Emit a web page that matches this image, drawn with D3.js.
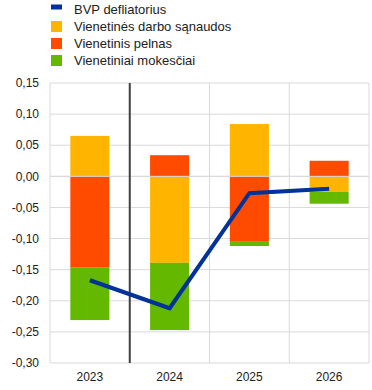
<!DOCTYPE html>
<html>
<head>
<meta charset="utf-8">
<script src="https://cdn.jsdelivr.net/npm/d3@7"></script>
<style>
  body { margin: 0; background: #fff; }
  text { font-family: Arial, "Liberation Sans", sans-serif; fill: #222; }
</style>
</head>
<body>
<div id="chart"></div>
<script>
// data
var years = ["2023", "2024", "2025", "2026"];
var laborCosts = [0.065, -0.139, 0.084, -0.025];
var profits = [-0.146, 0.034, -0.104, 0.025];
var taxes = [-0.085, -0.108, -0.008, -0.019];
var deflator = [-0.167, -0.212, -0.027, -0.020];
var yTicks = [0.15, 0.10, 0.05, 0, -0.05, -0.10, -0.15, -0.20, -0.25, -0.30];

var seriesNames = ["BVP defliatorius", "Vienetinės darbo sąnaudos", "Vienetinis pelnas", "Vienetiniai mokesčiai"];
var colors = ["#003299", "#ffb400", "#ff4b00", "#65b800"];

var W = 372, H = 390;
var margin = { top: 83, right: 3, bottom: 27, left: 50 };
var width = W - margin.left - margin.right,
    height = H - margin.top - margin.bottom;

var svg = d3.select("#chart").append("svg")
  .attr("width", W).attr("height", H);

var g = svg.append("g")
  .attr("transform", "translate(" + margin.left + "," + margin.top + ")");

var x = d3.scaleBand().domain(years).range([0, width]).paddingInner(0).paddingOuter(0);
var y = d3.scaleLinear().domain([-0.30, 0.15]).range([height, 0]);

// grid
g.selectAll(".hgrid").data(yTicks).enter().append("line")
  .attr("x1", 0).attr("x2", width)
  .attr("y1", function(d) { return y(d); }).attr("y2", function(d) { return y(d); })
  .attr("stroke", "#d9d9d9").attr("stroke-width", 1);

var vlines = [0].concat(years.map(function(d) { return x(d) + x.bandwidth(); }));
g.selectAll(".vgrid").data(vlines).enter().append("line")
  .attr("x1", function(d) { return d; }).attr("x2", function(d) { return d; })
  .attr("y1", 0).attr("y2", height)
  .attr("stroke", "#d9d9d9").attr("stroke-width", 1);

// stacked bars
var table = years.map(function(yr, i) {
  return { year: yr, labor: laborCosts[i], profit: profits[i], tax: taxes[i] };
});
var keys = ["labor", "profit", "tax"];
var stack = d3.stack().keys(keys).offset(d3.stackOffsetDiverging)(table);

var barW = x.bandwidth() * 0.49;
g.selectAll(".layer").data(stack).enter().append("g")
  .attr("fill", function(d, i) { return colors[i + 1]; })
  .selectAll("rect").data(function(d) { return d; }).enter().append("rect")
  .attr("x", function(d) { return x(d.data.year) + (x.bandwidth() - barW) / 2; })
  .attr("width", barW)
  .attr("y", function(d) { return y(Math.max(d[0], d[1])); })
  .attr("height", function(d) { return Math.abs(y(d[0]) - y(d[1])); });

// zero line over bars
g.append("line")
  .attr("x1", 0).attr("x2", width)
  .attr("y1", y(0)).attr("y2", y(0))
  .attr("stroke", "#d9d9d9").attr("stroke-width", 1);

// separator between actual and projection
g.append("line")
  .attr("x1", x("2024")).attr("x2", x("2024"))
  .attr("y1", 0).attr("y2", height)
  .attr("stroke", "#404040").attr("stroke-width", 2);

// deflator line
g.append("path")
  .datum(deflator)
  .attr("fill", "none")
  .attr("stroke", colors[0])
  .attr("stroke-width", 4)
  .attr("d", d3.line()
    .x(function(d, i) { return x(years[i]) + x.bandwidth() / 2; })
    .y(function(d) { return y(d); }));

// y axis labels
g.selectAll(".ylab").data(yTicks).enter().append("text")
  .attr("x", -11).attr("y", function(d) { return y(d); })
  .attr("dy", "0.35em")
  .attr("text-anchor", "end")
  .style("font-size", "12px")
  .text(function(d) { return d3.format(".2f")(d).replace(".", ",").replace("−", "-"); });

// x axis labels
g.selectAll(".xlab").data(years).enter().append("text")
  .attr("x", function(d) { return x(d) + x.bandwidth() / 2; })
  .attr("y", height + 14)
  .attr("dy", "0.35em")
  .attr("text-anchor", "middle")
  .style("font-size", "12px")
  .text(function(d) { return d; });

// legend
var legend = svg.append("g").attr("transform", "translate(51,0)");
seriesNames.forEach(function(name, i) {
  var cy = 9.5 + i * 17;
  if (i === 0) {
    legend.append("rect").attr("x", 0).attr("y", cy - 5).attr("width", 11).attr("height", 5)
      .attr("fill", colors[i]);
  } else {
    legend.append("rect").attr("x", 0).attr("y", cy - 5.5).attr("width", 11).attr("height", 11)
      .attr("fill", colors[i]);
  }
  legend.append("text").attr("x", 23).attr("y", cy).attr("dy", "0.35em")
    .style("font-size", "13px").text(name);
});
</script>
</body>
</html>
